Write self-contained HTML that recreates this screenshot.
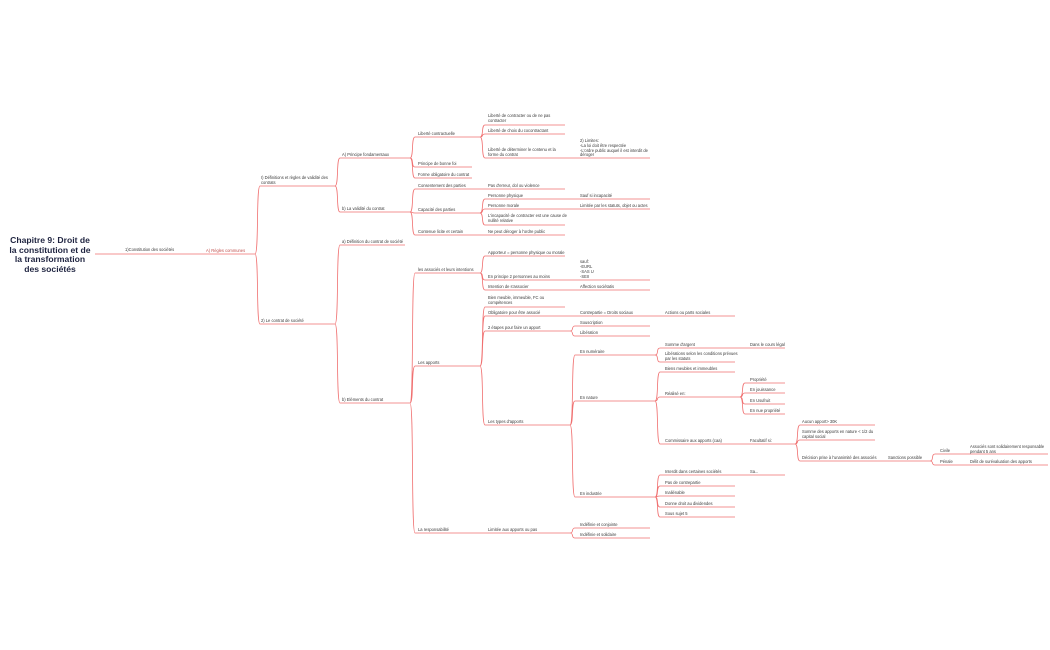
<!DOCTYPE html>
<html><head><meta charset="utf-8"><style>
html,body{margin:0;padding:0;background:#fff;width:1050px;height:650px;overflow:hidden}
svg{display:block}
text{font-family:"Liberation Sans",sans-serif;font-size:4.1px;fill:#3a3a3a}
.r{font-size:8.6px;font-weight:bold;fill:#1f2440}
.l{stroke:#f07070;stroke-width:0.8;fill:none}
</style></head><body>
<svg width="1050" height="650" viewBox="0 0 1050 650" xmlns="http://www.w3.org/2000/svg">
<text class="r" x="50" y="243" text-anchor="middle">Chapitre 9: Droit de</text>
<text class="r" x="50" y="253" text-anchor="middle">la constitution et de</text>
<text class="r" x="50" y="262" text-anchor="middle">la transformation</text>
<text class="r" x="50" y="272" text-anchor="middle">des sociétés</text>

<path class="l" d="
M95 254 H255
M255 254 C259 254 256 186 260 186 H335
M255 254 C259 254 256 324 260 324 H335
M335 186 C339 186 336 158 340 158 H410
M335 186 C339 186 336 212 340 212 H410
M410 158 C414 158 411 137 415 137 H480
M410 158 C414 158 411 167 415 167 H472
M410 158 C414 158 411 178 415 178 H472
M480 137 C484 137 481 125 485 125 H565
M480 137 C484 137 481 134 485 134 H565
M480 137 C484 137 481 158 485 158 H650
M410 212 C414 212 411 189 415 189 H565
M410 212 C414 212 411 213 415 213 H480
M410 212 C414 212 411 235 415 235 H565
M480 213 C484 213 481 199 485 199 H650
M480 213 C484 213 481 209 485 209 H650
M480 213 C484 213 481 225 485 225 H565
M335 324 C339 324 336 245 340 245 H405
M335 324 C339 324 336 403 340 403 H410
M410 403 C414 403 411 273 415 273 H480
M410 403 C414 403 411 366 415 366 H480
M410 403 C414 403 411 533 415 533 H570
M480 273 C484 273 481 256 485 256 H565
M480 273 C484 273 481 280 485 280 H650
M480 273 C484 273 481 290 485 290 H650
M480 366 C484 366 481 307 485 307 H565
M480 366 C484 366 481 316 485 316 H735
M480 366 C484 366 481 331 485 331 H570
M480 366 C484 366 481 425 485 425 H570
M570 331 C574 331 571 326 575 326 H650
M570 331 C574 331 571 336 575 336 H650
M570 425 C574 425 571 355 575 355 H655
M570 425 C574 425 571 401 575 401 H655
M570 425 C574 425 571 497 575 497 H655
M655 355 C659 355 656 348 660 348 H785
M655 355 C659 355 656 362 660 362 H735
M655 401 C659 401 656 372 660 372 H735
M655 401 C659 401 656 397 660 397 H740
M655 401 C659 401 656 444 660 444 H795
M740 397 C744 397 741 383 745 383 H785
M740 397 C744 397 741 393 745 393 H785
M740 397 C744 397 741 404 745 404 H785
M740 397 C744 397 741 414 745 414 H785
M795 444 C799 444 796 425 800 425 H875
M795 444 C799 444 796 440 800 440 H875
M795 444 C799 444 796 461 800 461 H930
M930 461 C934 461 931 454 935 454 H1048
M930 461 C934 461 931 465 935 465 H1048
M655 497 C659 497 656 475 660 475 H785
M655 497 C659 497 656 486 660 486 H735
M655 497 C659 497 656 496 660 496 H735
M655 497 C659 497 656 507 660 507 H735
M655 497 C659 497 656 517 660 517 H735
M570 533 C574 533 571 528 575 528 H650
M570 533 C574 533 571 538 575 538 H650
"/>

<text x="125" y="251">1)Constitution des sociétés</text>
<text x="206" y="252" style="fill:#c0504d">A) Règles communes</text>
<text x="261" y="179">I) Définitions et règles de validité des</text>
<text x="261" y="184">contrats</text>
<text x="261" y="322">2) Le contrat de société</text>
<text x="342" y="156">A) Principe fondamentaux</text>
<text x="342" y="210">b) La validité du contrat</text>
<text x="418" y="135">Liberté contractuelle</text>
<text x="418" y="165">Principe de bonne foi</text>
<text x="418" y="176">Forme obligatoire du contrat</text>
<text x="488" y="117">Liberté de contracter ou de ne pas</text>
<text x="488" y="122">contracter</text>
<text x="488" y="132">Liberté de choix du cocontractant</text>
<text x="488" y="151">Liberté de déterminer le contenu et la</text>
<text x="488" y="156">forme du contrat</text>
<text x="580" y="142">2) Limites:</text>
<text x="580" y="147">-La loi doit être respectée</text>
<text x="580" y="152">-L'ordre public auquel il est interdit de</text>
<text x="580" y="156">déroger</text>
<text x="418" y="187">Consentement des parties</text>
<text x="488" y="187">Pas d'erreur, dol ou violence</text>
<text x="418" y="211">Capacité des parties</text>
<text x="488" y="197">Personne physique</text>
<text x="580" y="197">Sauf si incapacité</text>
<text x="488" y="207">Personne morale</text>
<text x="580" y="207">Limitée par les statuts, objet ou actes</text>
<text x="488" y="217">L'incapacité de contracter est une cause de</text>
<text x="488" y="222">nullité relative</text>
<text x="418" y="233">Contenue licite et certain</text>
<text x="488" y="233">Ne peut déroger à l'ordre public</text>
<text x="342" y="243">a) Définition du contrat de société</text>
<text x="342" y="401">b) Eléments du contrat</text>
<text x="418" y="271">les associés et leurs intentions</text>
<text x="488" y="254">Apporteur = personne physique ou morale</text>
<text x="488" y="278">En principe 2 personnes au moins</text>
<text x="580" y="263">sauf:</text>
<text x="580" y="268">-EURL</text>
<text x="580" y="273">-SAS U</text>
<text x="580" y="278">-SEII</text>
<text x="488" y="288">Intention de s'associer</text>
<text x="580" y="288">Affection sociétatis</text>
<text x="418" y="364">Les apports</text>
<text x="488" y="299">Bien meuble, immeuble, FC ou</text>
<text x="488" y="304">compétences</text>
<text x="488" y="314">Obligatoire pour être associé</text>
<text x="580" y="314">Contrepartie = Droits sociaux</text>
<text x="665" y="314">Actions ou parts sociales</text>
<text x="488" y="329">2 étapes pour faire un apport</text>
<text x="580" y="324">Souscription</text>
<text x="580" y="334">Libération</text>
<text x="488" y="423">Les types d'apports</text>
<text x="580" y="353">En numéraire</text>
<text x="665" y="346">Somme d'argent</text>
<text x="750" y="346">Dans le cours légal</text>
<text x="665" y="355">Libérations selon les conditions prévues</text>
<text x="665" y="360">par les statuts</text>
<text x="580" y="399">En nature</text>
<text x="665" y="370">Biens meubles et immeubles</text>
<text x="665" y="395">Réalisé en:</text>
<text x="750" y="381">Propriété</text>
<text x="750" y="391">En jouissance</text>
<text x="750" y="402">En Usufruit</text>
<text x="750" y="412">En nue propriété</text>
<text x="665" y="442">Commissaire aux apports (caa)</text>
<text x="750" y="442">Facultatif si:</text>
<text x="802" y="423">Aucun apport&gt; 30K</text>
<text x="802" y="433">Somme des apports en nature &lt; 1/2 du</text>
<text x="802" y="438">capital social</text>
<text x="802" y="459">Décision prise à l'unanimité des associés</text>
<text x="888" y="459">Sanctions possible</text>
<text x="940" y="452">Civile</text>
<text x="970" y="448">Associés sont solidairement responsable</text>
<text x="970" y="453">pendant 5 ans</text>
<text x="940" y="463">Pénale</text>
<text x="970" y="463">Délit de surévaluation des apports</text>
<text x="580" y="495">En industrie</text>
<text x="665" y="473">Interdit dans certaines sociétés</text>
<text x="750" y="473">Sa...</text>
<text x="665" y="484">Pas de contrepartie</text>
<text x="665" y="494">Inaliénable</text>
<text x="665" y="505">Donne droit au dividendes</text>
<text x="665" y="515">Sous sujet 5</text>
<text x="418" y="531">La responsabilité</text>
<text x="488" y="531">Limitée aux apports ou pas</text>
<text x="580" y="526">Indéfinie et conjointe</text>
<text x="580" y="536">Indéfinie et solidaire</text>
</svg>
</body></html>
